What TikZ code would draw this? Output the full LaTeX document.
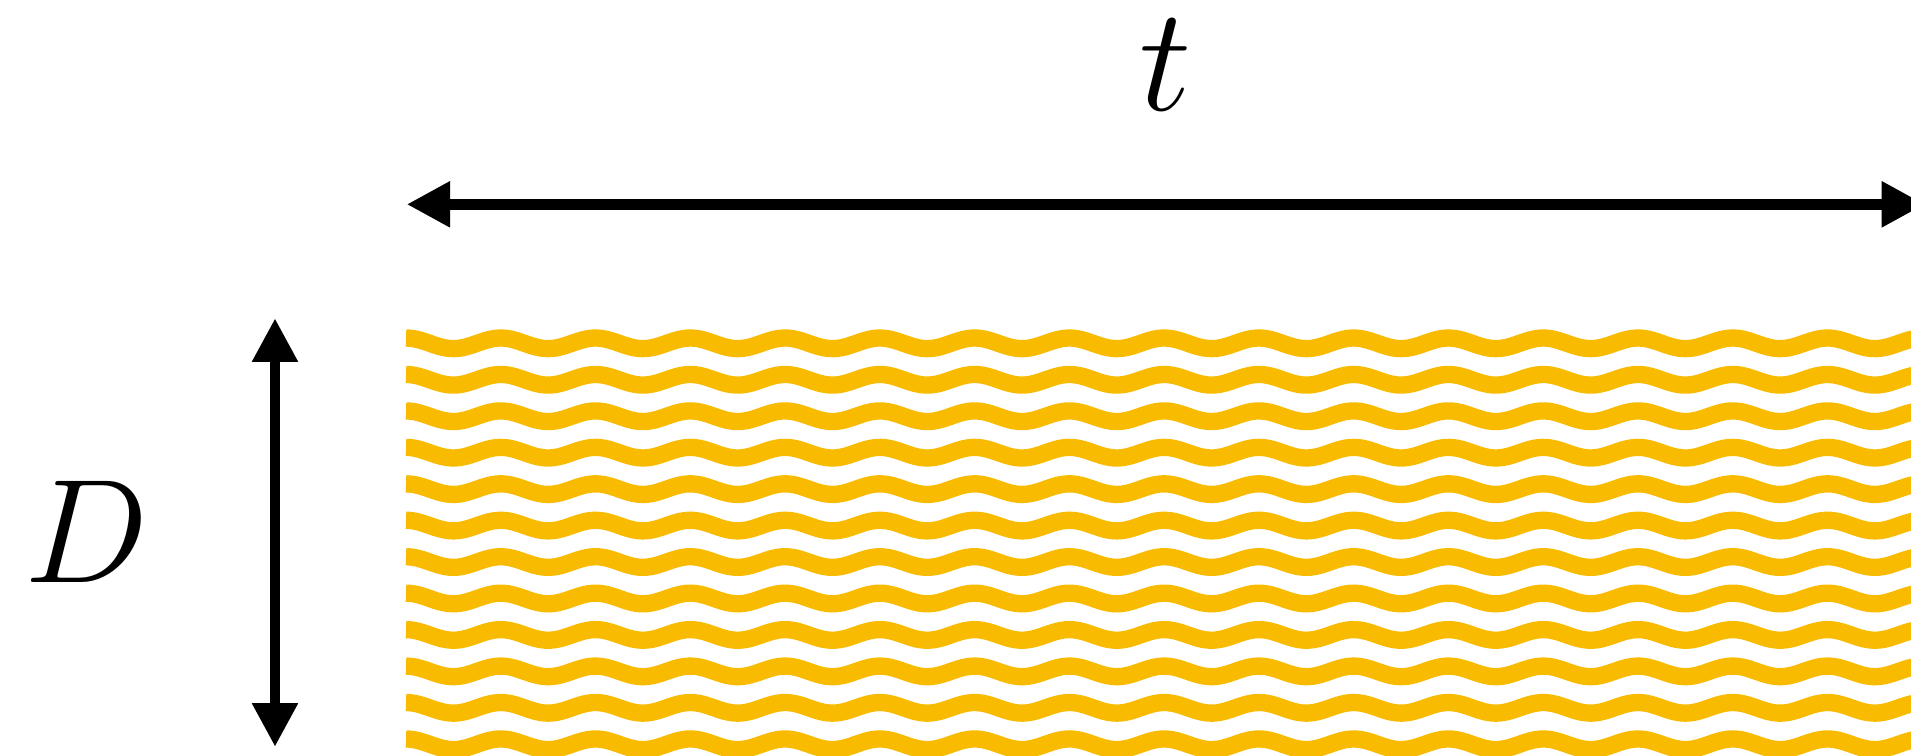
\documentclass[tikz,border=0pt]{standalone}
\usetikzlibrary{arrows.meta}
\definecolor{waveyellow}{RGB}{248,187,0}
\tikzset{
  dimarrow/.style={line width=1.8pt, {Triangle[length=7.31pt,width=7.3pt]}-{Triangle[length=7.31pt,width=7.3pt]}},
  waveline/.style={draw=waveyellow, line width=2.91pt},
  lbl/.style={inner sep=0pt, font=\Huge}
}
\begin{document}
\begin{tikzpicture}[x=0.16811pt,y=-0.16811pt]
\useasboundingbox (0,0) rectangle (1911,755);
\clip (0,0) rectangle (1911,755);
\coordinate (tL) at (406.7,204.3);
\coordinate (tR) at (1925,204.3);
\draw[dimarrow] (tL) -- (tR);
\coordinate (dT) at (275,318.3);
\coordinate (dB) at (275,746.7);
\draw[dimarrow, line width=1.68pt] (dT) -- (dB);
\foreach \k in {0,...,11} {
  \draw[waveline] plot[domain=406:1915, samples=500] (\x, {343.3+36.45*\k-5.3*cos(3.79867*(\x-406))});
}
\node[lbl] (D) at (87,532.2) {$D$};
\node[lbl] (t) at (1166,64.5) {$t$};
\end{tikzpicture}
\end{document}
